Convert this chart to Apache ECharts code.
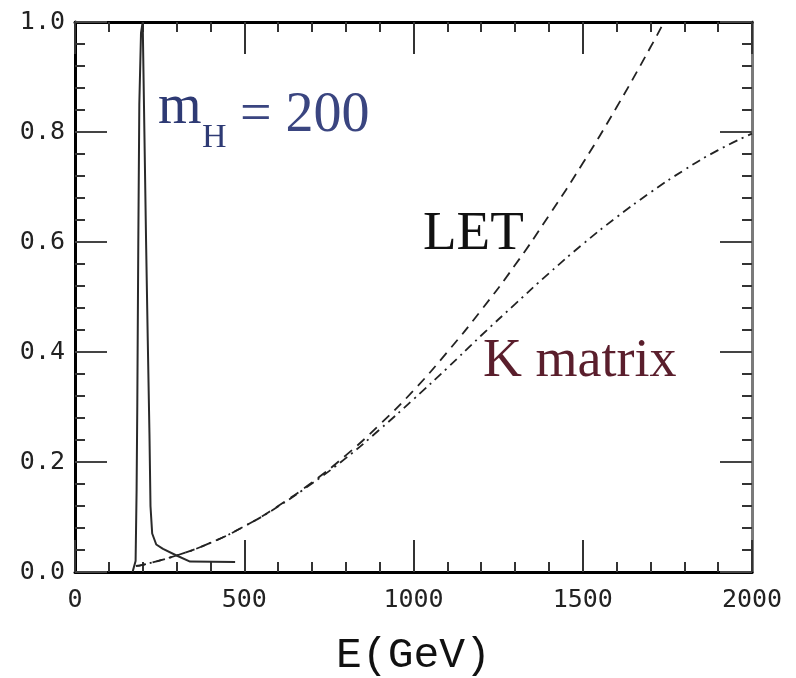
<!DOCTYPE html>
<html>
<head>
<meta charset="utf-8">
<title>E(GeV)</title>
<script src="https://cdn.jsdelivr.net/npm/echarts@6.0.0/dist/echarts.min.js"></script>
<style>
  html, body { margin: 0; padding: 0; background: #ffffff; }
  #chart { width: 796px; height: 678px; }
</style>
</head>
<body>
<div id="chart"></div>
<script>
// Energy grid (GeV) and amplitudes for each curve
const energyRes = [170, 179, 182, 184, 187, 190, 195, 200, 205, 210, 215, 220, 223, 228, 240, 260, 300, 340, 473];
const valuesRes = [0.0, 0.02, 0.15, 0.30, 0.60, 0.85, 0.98, 1.0, 0.80, 0.60, 0.42, 0.25, 0.12, 0.07, 0.05, 0.042, 0.030, 0.019, 0.018];

const energyLET = [180, 200, 300, 400, 500, 600, 700, 800, 900, 1000, 1100, 1200, 1300, 1400, 1500, 1600, 1700, 1740];
const valuesLET = [0.011, 0.013, 0.030, 0.053, 0.083, 0.120, 0.163, 0.212, 0.268, 0.330, 0.400, 0.476, 0.558, 0.648, 0.743, 0.845, 0.954, 1.0];

const energyK = [180, 200, 300, 400, 500, 600, 700, 800, 900, 1000, 1100, 1200, 1300, 1400, 1500, 1600, 1700, 1800, 1900, 2000];
const valuesK = [0.011, 0.013, 0.030, 0.053, 0.083, 0.119, 0.161, 0.207, 0.259, 0.314, 0.371, 0.430, 0.487, 0.543, 0.596, 0.645, 0.690, 0.731, 0.767, 0.797];

const xRange = [0, 2000];
const yRange = [0, 1];

const zip = (xs, ys) => xs.map((x, i) => [x, ys[i]]);

const chart = echarts.init(document.getElementById('chart'), null, { renderer: 'canvas' });

const tickFont = { fontFamily: 'DejaVu Sans Mono', fontSize: 25, color: '#222' };

function xAxisCfg(position, showLabels) {
  return {
    type: 'value', position: position, min: xRange[0], max: xRange[1], interval: 500,
    axisLine: { show: true, onZero: false, lineStyle: { color: '#000', width: 3 } },
    axisTick: { show: true, inside: true, length: 32, lineStyle: { color: '#333', width: 2 } },
    minorTick: { show: true, splitNumber: 5, length: 10, lineStyle: { color: '#333', width: 2 } },
    axisLabel: Object.assign({ show: showLabels, margin: 16, formatter: v => String(v) }, tickFont),
    splitLine: { show: false }
  };
}

function yAxisCfg(position, showLabels, color) {
  return {
    type: 'value', position: position, min: yRange[0], max: yRange[1], interval: 0.2,
    axisLine: { show: true, onZero: false, lineStyle: { color: color, width: 3 } },
    axisTick: { show: true, inside: true, length: 32, lineStyle: { color: '#444', width: 2 } },
    minorTick: { show: true, splitNumber: 5, length: 10, lineStyle: { color: '#333', width: 2 } },
    axisLabel: Object.assign({ show: showLabels, margin: 10, formatter: v => v.toFixed(1) }, tickFont),
    splitLine: { show: false }
  };
}

const xBottom = xAxisCfg('bottom', true);
xBottom.name = 'E(GeV)';
xBottom.nameLocation = 'middle';
xBottom.nameGap = 62;
xBottom.nameTextStyle = { fontFamily: 'Liberation Mono', fontSize: 43, color: '#111' };

const serif = 'Liberation Serif';

chart.setOption({
  animation: false,
  backgroundColor: '#ffffff',
  grid: { left: 75, right: 44, top: 22, bottom: 106, containLabel: false, outerBoundsMode: 'none' },
  xAxis: [xBottom, xAxisCfg('top', false)],
  yAxis: [yAxisCfg('left', true, '#000'), yAxisCfg('right', false, '#7a7a7a')],
  series: [
    {
      name: 'm_H = 200', type: 'line', xAxisIndex: 0, yAxisIndex: 0,
      data: zip(energyRes, valuesRes), showSymbol: false, smooth: false,
      lineStyle: { color: '#2a2a2a', width: 2 }, z: 3
    },
    {
      name: 'LET', type: 'line', xAxisIndex: 0, yAxisIndex: 0,
      data: zip(energyLET, valuesLET), showSymbol: false, smooth: true,
      lineStyle: { color: '#222', width: 1.8, type: [10, 7] }, z: 2
    },
    {
      name: 'K matrix', type: 'line', xAxisIndex: 0, yAxisIndex: 0,
      data: zip(energyK, valuesK), showSymbol: false, smooth: true,
      lineStyle: { color: '#222', width: 1.8, type: [9, 5, 2, 5] }, z: 2
    }
  ],
  graphic: [
    { type: 'text', left: 158, top: 80, style: { text: 'm', font: '56px "' + serif + '"', fill: '#2e3a74' } },
    { type: 'text', left: 202, top: 121, style: { text: 'H', font: '34px "' + serif + '"', fill: '#2e3a74' } },
    { type: 'text', left: 240, top: 88, style: { text: '= 200', font: '56px "' + serif + '"', fill: '#3a4580' } },
    { type: 'text', left: 423, top: 207, style: { text: 'LET', font: '55px "' + serif + '"', fill: '#111' } },
    { type: 'text', left: 483, top: 335, style: { text: 'K matrix', font: '54px "' + serif + '"', fill: '#5a1e2c' } }
  ]
});
</script>
</body>
</html>
